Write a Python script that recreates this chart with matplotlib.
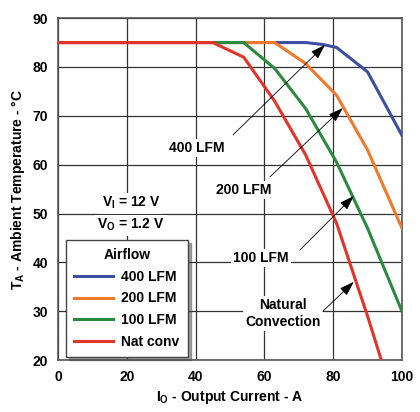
import matplotlib
matplotlib.use("Agg")
from matplotlib import pyplot as plt

# derating curves
current_400 = [0, 72, 77, 81, 90, 100]
temp_400 = [85, 85, 84.6, 84, 79, 66]
current_200 = [0, 63, 72, 81, 90, 100]
temp_200 = [85, 85, 80.7, 74.2, 63, 47]
current_100 = [0, 54, 63, 72, 81, 90, 100]
temp_100 = [85, 85, 79.7, 71.5, 60.5, 47, 30]
current_nat = [0, 45, 54, 63, 72, 81, 90, 94]
temp_nat = [85, 85, 82, 73, 62, 48, 29, 20]

series_labels = ['400 LFM', '200 LFM', '100 LFM', 'Nat conv']
series_colors = ['#3d4fa1', '#f0792e', '#2b8a3e', '#e3342b']

x_ticks = [0, 20, 40, 60, 80, 100]
y_ticks = [20, 30, 40, 50, 60, 70, 80, 90]

plt.rcParams['font.family'] = 'Liberation Sans'
plt.rcParams['font.weight'] = 'bold'
plt.rcParams['mathtext.fontset'] = 'custom'
plt.rcParams['mathtext.rm'] = 'Liberation Sans:bold'
plt.rcParams['mathtext.it'] = 'Liberation Sans:bold'
plt.rcParams['mathtext.bf'] = 'Liberation Sans:bold'

fig = plt.figure(figsize=(4.2, 4.12), dpi=100)
ax = fig.add_axes([0.138, 0.126, 0.819, 0.830])

curves = [(current_400, temp_400), (current_200, temp_200),
          (current_100, temp_100), (current_nat, temp_nat)]
for (x, y), lab, col in zip(curves, series_labels, series_colors):
    ax.plot(x, y, color=col, lw=2.2, label=lab, zorder=3, solid_joinstyle='miter')

ax.set_xlim(0, 100)
ax.set_ylim(20, 90)
ax.set_xticks(x_ticks)
ax.set_yticks(y_ticks)
ax.tick_params(length=0, labelsize=10, pad=7)
ax.grid(True, color='#333333', lw=0.9)
for s in ax.spines.values():
    s.set_color('#555555')
    s.set_linewidth(1.2)

ax.set_xlabel(r'$I_O$ - Output Current - A', fontsize=10, fontweight='bold', labelpad=4)
ax.set_ylabel(r'$T_A$ - Ambient Temperature - °C', fontsize=10, fontweight='bold', labelpad=4)

box = dict(facecolor='white', edgecolor='none', pad=1.5)
arrow = dict(arrowstyle='-|>,head_length=0.9,head_width=0.3', lw=0.6, color='black',
             shrinkA=0, shrinkB=0)

ax.text(40.4, 63.4, '400 LFM', ha='center', va='center', fontsize=10, bbox=box, zorder=4)
ax.annotate('', xy=(77.6, 84.5), xytext=(50.9, 66.1), arrowprops=arrow, zorder=5)
ax.text(54.1, 54.8, '200 LFM', ha='center', va='center', fontsize=10, bbox=box, zorder=4)
ax.annotate('', xy=(82.8, 71.6), xytext=(61.6, 57.5), arrowprops=arrow, zorder=5)
ax.text(59.0, 40.9, '100 LFM', ha='center', va='center', fontsize=10, bbox=box, zorder=4)
ax.annotate('', xy=(86.0, 53.6), xytext=(70.3, 42.5), arrowprops=arrow, zorder=5)
ax.text(65.4, 29.6, 'Natural\nConvection', ha='center', va='center', fontsize=10,
        linespacing=1.25, bbox=box, zorder=4)
ax.annotate('', xy=(86.0, 36.0), xytext=(77.0, 30.0), arrowprops=arrow, zorder=5)

ax.text(21.2, 52.1, r'$V_I$ = 12 V', ha='center', va='center', fontsize=10, bbox=box, zorder=4)
ax.text(21.2, 47.6, r'$V_O$ = 1.2 V', ha='center', va='center', fontsize=10, bbox=box, zorder=4)

leg = ax.legend(loc='lower left', bbox_to_anchor=(0.023, 0.009), title='Airflow',
                fontsize=10, title_fontsize=10, frameon=True, fancybox=False, shadow=True,
                handlelength=2.8, handletextpad=0.6, labelspacing=0.55, borderpad=0.6,
                borderaxespad=0)
leg.get_title().set_fontweight('bold')
leg.get_frame().set_edgecolor('#444444')
leg.get_frame().set_linewidth(1.0)
leg.set_zorder(6)

plt.savefig('out.png', dpi=100)
